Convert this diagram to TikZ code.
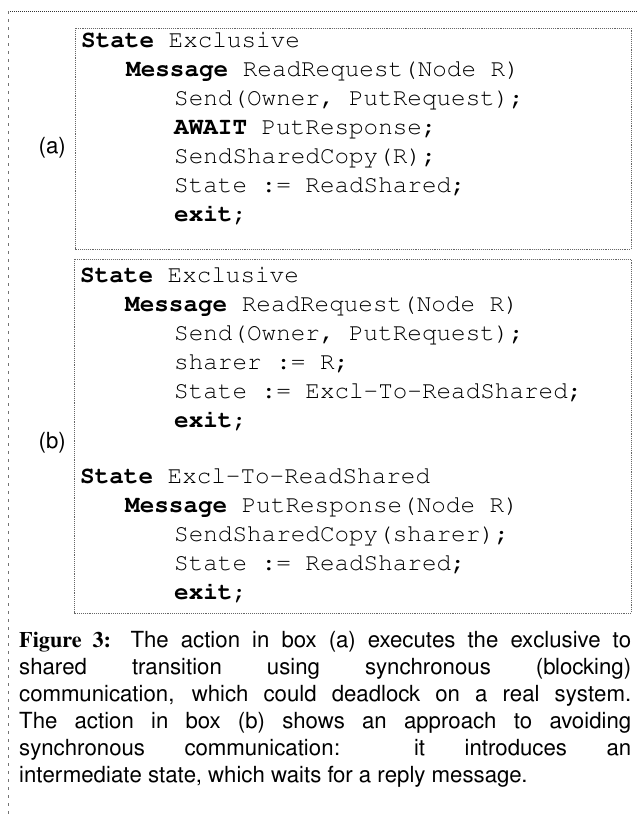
\documentclass[tikz,border=0pt]{standalone}
\usepackage[T1]{fontenc}
\begin{document}
\begin{tikzpicture}[x=1pt,y=-1pt]
\tikzset{
  code/.style={anchor=base west, inner sep=0pt, font=\fontfamily{pcr}\fontsize{24.3}{29}\selectfont},
  lbl/.style={anchor=base east, inner sep=0pt, font=\fontfamily{phv}\fontsize{22.2}{27}\selectfont},
  capline/.style={anchor=base west, inner sep=0pt, font=\fontfamily{phv}\fontsize{22.2}{27}\selectfont},
  boxline/.style={draw=black!60, line width=0.9pt, densely dotted},
  frameline/.style={draw=black!80, line width=1pt, densely dotted},
  marginline/.style={draw=black!55, line width=0.8pt, dash pattern=on 3pt off 5pt},
}
\useasboundingbox (0,0) rectangle (637,817);
% outer frame
\coordinate (tl) at (8,11);
\coordinate (tr) at (637,11);
\coordinate (bl) at (8,817);
\draw[frameline] (tl) -- (tr);
\draw[marginline] (tl) -- (bl);
% boxes
\draw[boxline] (75,28) rectangle (631,249);
\draw[boxline] (74,259) rectangle (631,613);
% labels
\node[lbl] (la) at (66,153) {(a)};
\node[lbl] (lb) at (66,448) {(b)};
% box (a)
\node[code] (a1) at (81,47)  {\textbf{State} Exclusive};
\node[code] (a2) at (126,76) {\textbf{Message} ReadRequest(Node R)};
\node[code] (a3) at (174,105) {Send(Owner, PutRequest);};
\node[code] (a4) at (174,134) {\textbf{AWAIT} PutResponse;};
\node[code] (a5) at (174,163) {SendSharedCopy(R);};
\node[code] (a6) at (174,192) {State := ReadShared;};
\node[code] (a7) at (174,221) {\textbf{exit};};
% box (b)
\node[code] (b1) at (80,282)  {\textbf{State} Exclusive};
\node[code] (b2) at (125,311) {\textbf{Message} ReadRequest(Node R)};
\node[code] (b3) at (174,340) {Send(Owner, PutRequest);};
\node[code] (b4) at (174,369) {sharer := R;};
\node[code] (b5) at (174,398) {State := Excl-To-ReadShared;};
\node[code] (b6) at (174,427) {\textbf{exit};};
\node[code] (b7) at (80,483)  {\textbf{State} Excl-To-ReadShared};
\node[code] (b8) at (125,512) {\textbf{Message} PutResponse(Node R)};
\node[code] (b9) at (174,541) {SendSharedCopy(sharer);};
\node[code] (b10) at (174,570) {State := ReadShared;};
\node[code] (b11) at (174,599) {\textbf{exit};};
% caption
\node[capline] (c1) at (19,647) {\makebox[612pt][s]{{\fontfamily{ptm}\bfseries Figure 3:} The action in box (a) executes the exclusive to}};
\node[capline] (c2) at (19,674) {\makebox[612pt][s]{shared transition using synchronous (blocking)}};
\node[capline] (c3) at (19,701) {\makebox[612pt][s]{communication, which could deadlock on a real system.}};
\node[capline] (c4) at (19,728) {\makebox[612pt][s]{The action in box (b) shows an approach to avoiding}};
\node[capline] (c5) at (19,755) {\makebox[612pt][s]{synchronous communication: it introduces an}};
\node[capline] (c6) at (19,782) {intermediate state, which waits for a reply message.};
\end{tikzpicture}
\end{document}
